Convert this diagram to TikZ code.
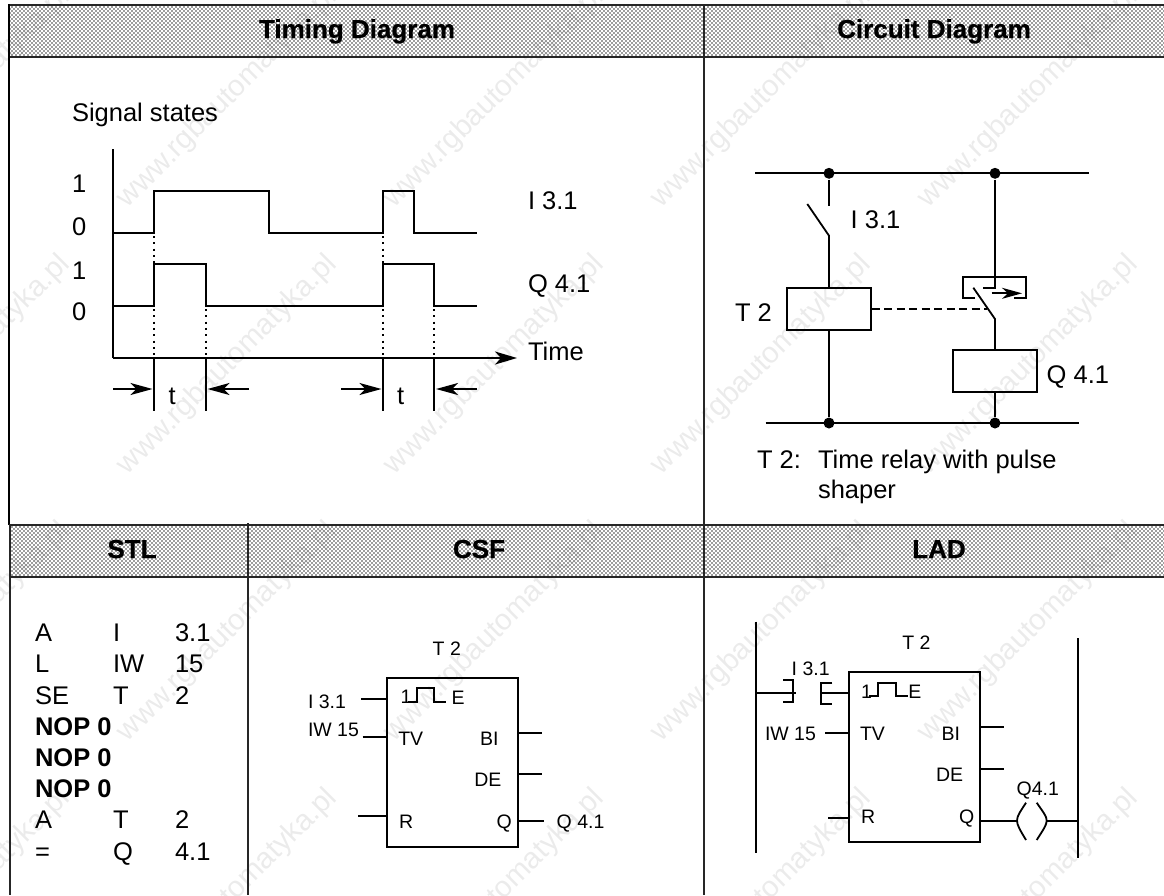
\documentclass[tikz,border=0pt]{standalone}
\usepackage{fontspec}
\setmainfont{Liberation Sans}
\newfontfamily\hbold[BoldFeatures={FakeBold=0.7}]{Liberation Sans}
\usetikzlibrary{arrows.meta,patterns}
\pgfdeclarepatternformonly{dither}{\pgfqpoint{-1pt}{-1pt}}{\pgfqpoint{3pt}{3pt}}{\pgfqpoint{4pt}{4pt}}{
  \pgfpathrectangle{\pgfqpoint{-0.65pt}{-0.65pt}}{\pgfqpoint{1.3pt}{1.3pt}}
  \pgfpathrectangle{\pgfqpoint{1.35pt}{1.35pt}}{\pgfqpoint{1.3pt}{1.3pt}}
  \pgfusepath{fill}}
\tikzset{
  ln/.style={line width=1.8pt,line cap=butt},
  frame/.style={line width=1.9pt,black!85},
  hdr/.style={pattern=dither,pattern color=black!90,draw=none},
  big/.style={anchor=base west,inner sep=0pt,outer sep=0pt,font=\fontsize{25.5}{30}\selectfont},
  small/.style={anchor=base west,inner sep=0pt,outer sep=0pt,font=\fontsize{19.5}{24}\selectfont},
  hfont/.style={anchor=base,inner sep=0pt,outer sep=0pt,font=\fontsize{26}{30}\selectfont\hbold\bfseries},
  stlb/.style={big,font=\fontsize{25.5}{30}\selectfont\bfseries},
  blockbox/.style={draw,line width=1.8pt,inner sep=0pt,fill=none},
  dots/.style={line width=1.8pt,dash pattern=on 2pt off 4.3pt},
  bigtip/.style={-{Stealth[length=22pt,width=13pt,inset=6pt]}},
  smalltip/.style={-{Stealth[length=22pt,width=12pt,inset=6pt]}},
  jn/.style={circle,fill=black,inner sep=0pt,minimum size=11pt},
  wmark/.style={rotate=45,inner sep=0pt,text=black!8,font=\fontsize{29.5}{34}\selectfont},
}
\begin{document}
\begin{tikzpicture}[x=1pt,y=-1pt,ln]
\useasboundingbox (0,0) rectangle (1164,895);
% faint diagonal site mark printed across the page
\foreach \c in {0,...,4} \foreach \r in {0,...,3} {
  \pgfmathsetmacro{\cx}{-39.5+267*\c}
  \pgfmathsetmacro{\cy}{98+267*\r}
  \node[wmark] (wm\c\r) at (\cx,\cy) {www.rgbautomatyka.pl};
}
% headers
\fill[hdr] (10,6) rectangle (1164,57);
\fill[hdr] (10,525) rectangle (1164,577);
% frame
\coordinate (tl) at (9,5); \coordinate (tr) at (1164,5);
\coordinate (ml) at (9,57); \coordinate (mr) at (1164,57);
\draw[frame] (tl) -- (tr);
\draw[frame] (ml) -- (mr);
\draw[line width=2pt] (9,4) -- (9,525);
\draw[frame] (9,525) -- (1164,525);
\draw[frame] (9,577) -- (1164,577);
\draw[frame] (10,525) -- (10,895);
\draw[frame] (704,5) -- (704,895);
\draw[frame] (248,523) -- (248,895);
% header text
\node[hfont] (hTiming) at (357,38) {Timing Diagram};
\node[hfont] (hCircuit) at (934,38) {Circuit Diagram};
\node[hfont] (hSTL) at (132,558) {STL};
\node[hfont] (hCSF) at (479,558) {CSF};
\node[hfont] (hLAD) at (939,558) {LAD};
%% Timing
\node[big] (sig) at (72,121.7) {Signal states};
\node[big] (a1) at (72,192) {1};
\node[big] (a0) at (72,235.5) {0};
\node[big] (b1) at (72,279) {1};
\node[big] (b0) at (72,320.5) {0};
\node[big] (li) at (528,209) {I 3.1};
\node[big] (lq) at (528,292.7) {Q 4.1};
\node[big] (lt) at (528,360) {Time};
\coordinate (o) at (113,358);
\coordinate (ytop) at (113,149);
\coordinate (xend) at (517,358);
\draw (ytop) -- (o);
\draw[bigtip] (o) -- (xend);
\draw (113,233) -| (154,191) -| (269,233) -| (383,191) -| (413.6,233) -- (477,233);
\draw (113,306) -| (154,264) -| (206,306) -| (383,264) -| (434.3,306) -- (477,306);
\draw[dots] (154,236) -- (154,264);
\draw[dots] (383,236) -- (383,264);
\foreach \x in {154,206,383,434.3} {
  \draw[dots] (\x,309) -- (\x,358);
  \draw (\x,358) -- (\x,411);
}
\draw[smalltip] (113,389) -- (152.5,389);
\draw[smalltip] (249,389) -- (207.5,389);
\draw[smalltip] (341,389) -- (381.5,389);
\draw[smalltip] (477,389) -- (436,389);
\node[big] (t1) at (168.5,404) {t};
\node[big] (t2) at (397,404) {t};
%% Circuit
\coordinate (ra) at (755,173.3); \coordinate (rb) at (1089,173.3);
\coordinate (sa) at (765.7,423); \coordinate (sb) at (1079,423);
\draw (ra) -- (rb);
\draw (sa) -- (sb);
\node[jn] (j1) at (829,173.3) {};
\node[jn] (j2) at (995,173.3) {};
\node[jn] (j3) at (829,423) {};
\node[jn] (j4) at (995,423) {};
\node[blockbox,minimum width=84pt,minimum height=42.3pt] (T2) at (828.7,308.8) {};
\node[blockbox,minimum width=84pt,minimum height=42.3pt] (Q41) at (994.7,371.1) {};
\coordinate (s1t) at (829,205.7);
\coordinate (s1a) at (807.3,204);
\coordinate (s1b) at (829,235.7);
\draw (j1) -- (s1t);
\draw (s1a) -- (s1b) -- (T2.north -| s1b);
\draw (T2.south -| s1b) -- (j3);
\coordinate (s2a) at (973.3,287.7);
\coordinate (s2b) at (995,319);
\draw (j2) -- (995,287.7) -- (983.3,287.7);
\draw (s2a) -- (s2b) -- (Q41.north -| s2b);
\draw (Q41.south -| s2b) -- (j4);
\draw (975,298.3) -- (963.3,298.3) -- (963.3,277.3) -- (1026,277.3) -- (1026,298.3) -- (1014,298.3);
\draw[-{Stealth[length=20pt,width=11pt,inset=6pt]}] (991.7,293.3) -- (1022,293.3);
\draw[dashed,dash pattern=on 8pt off 4.5pt] (T2.east |- 309,309) -- (986.7,309);
\node[big] (ci) at (850.7,228) {I 3.1};
\node[big] (ct) at (735,321.7) {T 2};
\node[big] (cq) at (1046.7,383) {Q 4.1};
\node[big] (n1) at (757,468) {T 2:};
\node[big] (n2) at (818,468) {Time relay with pulse};
\node[big] (n3) at (818,498.5) {shaper};
%% STL
\foreach \y/\a/\b/\c in {641.7/A/I/3.1,672.7/L/IW/15,704.3/SE/T/2,828.3/A/T/2,860/=/Q/4.1} {
  \node[big] at (35,\y) {\a};
  \node[big] at (113,\y) {\b};
  \node[big] at (175,\y) {\c};
}
\foreach \y in {735,766,797.7} \node[stlb] at (35,\y) {NOP 0};
%% CSF
\node[blockbox,minimum width=130.4pt,minimum height=169pt] (csf) at (452.5,762.2) {};
\node[small] (csfT) at (432.7,655) {T 2};
\node[small] (csfI) at (308,708) {I 3.1};
\node[small] (csfW) at (308,736.7) {IW 15};
\node[small] (csf1) at (400.7,703.5) {1};
\node[small] (csfE) at (451.7,704) {E};
\node[small] (csfTV) at (398.3,745.7) {TV};
\node[small] (csfBI) at (480,745.7) {BI};
\node[small] (csfDE) at (474.3,786.7) {DE};
\node[small] (csfR) at (399,828.3) {R};
\node[small] (csfQ) at (496.7,828.3) {Q};
\node[small] (csfO) at (556.7,828.3) {Q 4.1};
\draw (408.3,701.7) -- (416.7,701.7) -- (416.7,688.3) -- (434.3,688.3) -- (434.3,701.7) -- (446,701.7);
\draw (361,698.7) -- (csf.west |- 0,698.7);
\draw (362.7,737.3) -- (csf.west |- 0,737.3);
\draw (358,815.7) -- (csf.west |- 0,815.7);
\draw (csf.east |- 0,732.7) -- (541.7,732.7);
\draw (csf.east |- 0,774) -- (541.7,774);
\draw (csf.east |- 0,820.7) -- (544,820.7);
%% LAD
\coordinate (la) at (756,621.7); \coordinate (lb) at (756,853.3);
\coordinate (rra) at (1077.7,638.3); \coordinate (rrb) at (1077.7,858.3);
\draw (la) -- (lb); \draw (rra) -- (rrb);
\node[blockbox,minimum width=131pt,minimum height=169.4pt] (lad) at (914.5,757) {};
\node[small] (ladT) at (902.3,649) {T 2};
\node[small] (ladI) at (791.7,675) {I 3.1};
\node[small] (ladW) at (765,740) {IW 15};
\node[small] (lad1) at (861,698.5) {1};
\node[small] (ladE) at (908.3,698.5) {E};
\node[small] (ladTV) at (860,740) {TV};
\node[small] (ladBI) at (941.7,740) {BI};
\node[small] (ladDE) at (936,781.7) {DE};
\node[small] (ladR) at (861,823.3) {R};
\node[small] (ladQ) at (959,823.3) {Q};
\node[small] (ladO) at (1016.7,795) {Q4.1};
\draw (869.3,696) -- (878.3,696) -- (878.3,683.3) -- (895.7,683.3) -- (895.7,696) -- (908.3,696);
\draw (756,693.3) -- (795.7,693.3);
\draw (783.3,680) -- (793.3,680) -- (793.3,701.7) -- (783.3,701.7);
\draw (832.3,682.7) -- (820.7,682.7) -- (820.7,704.3) -- (832.3,704.3);
\draw (820.7,693.3) -- (lad.west |- 0,693.3);
\draw (825,733.3) -- (lad.west |- 0,733.3);
\draw (828,818.3) -- (lad.west |- 0,818.3);
\draw (lad.east |- 0,726.7) -- (1004,726.7);
\draw (lad.east |- 0,769) -- (1004,769);
\draw (lad.east |- 0,820.7) -- (1017,820.7);
\draw (1047,820.7) -- (1077.7,820.7);
\draw (1026,802.7) .. controls (1020,812) and (1017,816) .. (1017,820.7) .. controls (1017,825) and (1020,830) .. (1026,840);
\draw (1036.7,802.7) .. controls (1043,812) and (1046.7,816) .. (1046.7,820.7) .. controls (1046.7,825) and (1043,830) .. (1036.7,840);
\end{tikzpicture}
\end{document}
